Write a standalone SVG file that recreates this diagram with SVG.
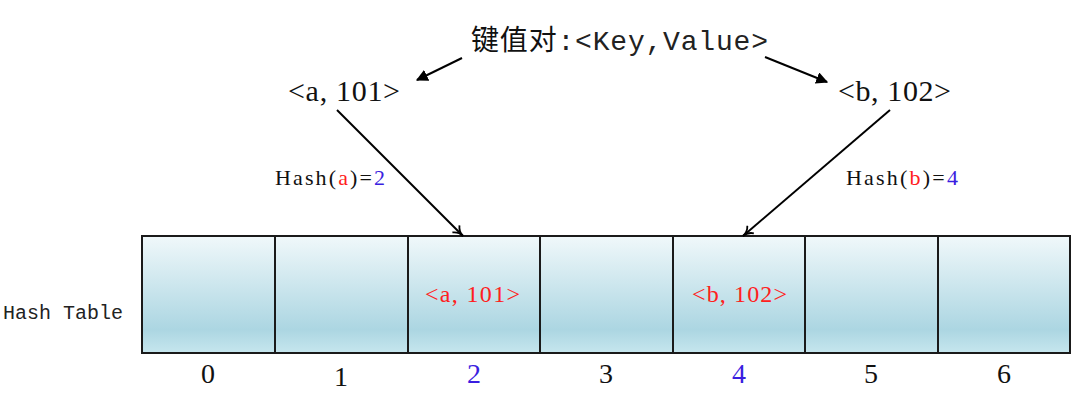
<svg xmlns="http://www.w3.org/2000/svg" width="1080" height="404" viewBox="0 0 1080 404">
<style>
.cell{stroke:#1a1a1a;stroke-width:2;fill:url(#g)}
.t{font-family:"Liberation Serif","Noto Sans CJK SC",serif;fill:#111}
.m{font-family:"Liberation Mono","Noto Sans CJK SC",monospace;fill:#222}
.cjk{font-family:"Noto Sans CJK SC",sans-serif;fill:#111}
.ln{stroke:#000;stroke-width:2;fill:none}
.red{fill:#ff2020}
.blue{fill:#3a1ee0}
</style>
<defs>
<linearGradient id="g" x1="0" y1="0" x2="0" y2="1">
<stop offset="0" stop-color="#f0f8fa"/>
<stop offset="0.8" stop-color="#acd6e2"/>
<stop offset="1" stop-color="#c6e6ee"/>
</linearGradient>
<marker id="fa" viewBox="0 0 10 10" refX="9" refY="5" markerWidth="6" markerHeight="6" orient="auto" markerUnits="strokeWidth">
<path d="M0,0 L10,5 L0,10 z" fill="#000"/>
</marker>
<marker id="oa" viewBox="0 0 12 12" refX="11" refY="6" markerWidth="12" markerHeight="12" orient="auto" markerUnits="userSpaceOnUse">
<path d="M1,1 Q5,6 11,6 Q5,6 1,11" fill="none" stroke="#000" stroke-width="1.8"/>
</marker>
</defs>
<rect width="1080" height="404" fill="#fff"/>
<g id="title"><text x="471" y="50" font-size="28" textLength="297" lengthAdjust="spacing"><tspan class="cjk">键值对</tspan><tspan class="m" fill="#111">:&lt;Key,Value&gt;</tspan></text></g>
<g id="pair-a"><text class="t" x="288" y="101" font-size="30" textLength="112" lengthAdjust="spacing">&lt;a, 101&gt;</text></g>
<g id="pair-b"><text class="t" x="838" y="101" font-size="30" textLength="113" lengthAdjust="spacing">&lt;b, 102&gt;</text></g>
<g id="hash-a"><text class="t" x="275" y="185" font-size="22" textLength="110" lengthAdjust="spacing">Hash(<tspan class="red">a</tspan>)=<tspan class="blue">2</tspan></text></g>
<g id="hash-b"><text class="t" x="846" y="185" font-size="22" textLength="112" lengthAdjust="spacing">Hash(<tspan class="red">b</tspan>)=<tspan class="blue">4</tspan></text></g>
<g id="label"><text class="m" x="3" y="319" font-size="20">Hash Table</text></g>
<g id="table">
<rect class="cell" x="142" y="236" width="133" height="117"/>
<rect class="cell" x="275" y="236" width="133" height="117"/>
<rect class="cell" x="408" y="236" width="132" height="117"/>
<rect class="cell" x="540" y="236" width="133" height="117"/>
<rect class="cell" x="673" y="236" width="132" height="117"/>
<rect class="cell" x="805" y="236" width="133" height="117"/>
<rect class="cell" x="938" y="236" width="132" height="117"/>
<text class="t red" x="425" y="302" font-size="24" textLength="95" lengthAdjust="spacing">&lt;a, 101&gt;</text>
<text class="t red" x="692" y="302" font-size="24" textLength="95" lengthAdjust="spacing">&lt;b, 102&gt;</text>
</g>
<g id="indices" font-size="28">
<text class="t" x="208" y="383" text-anchor="middle">0</text>
<text class="t" x="341" y="386" text-anchor="middle">1</text>
<text class="t blue" x="474" y="383" text-anchor="middle">2</text>
<text class="t" x="606" y="383" text-anchor="middle">3</text>
<text class="t blue" x="739" y="383" text-anchor="middle">4</text>
<text class="t" x="871" y="383" text-anchor="middle">5</text>
<text class="t" x="1004" y="383" text-anchor="middle">6</text>
</g>
<g id="connectors">
<line class="ln" x1="462" y1="58" x2="417" y2="80" marker-end="url(#fa)"/>
<line class="ln" x1="765" y1="57" x2="827" y2="82" marker-end="url(#fa)"/>
<line class="ln" x1="337" y1="110" x2="463" y2="236" marker-end="url(#oa)"/>
<line class="ln" x1="890" y1="110" x2="743" y2="236" marker-end="url(#oa)"/>
</g>
</svg>
